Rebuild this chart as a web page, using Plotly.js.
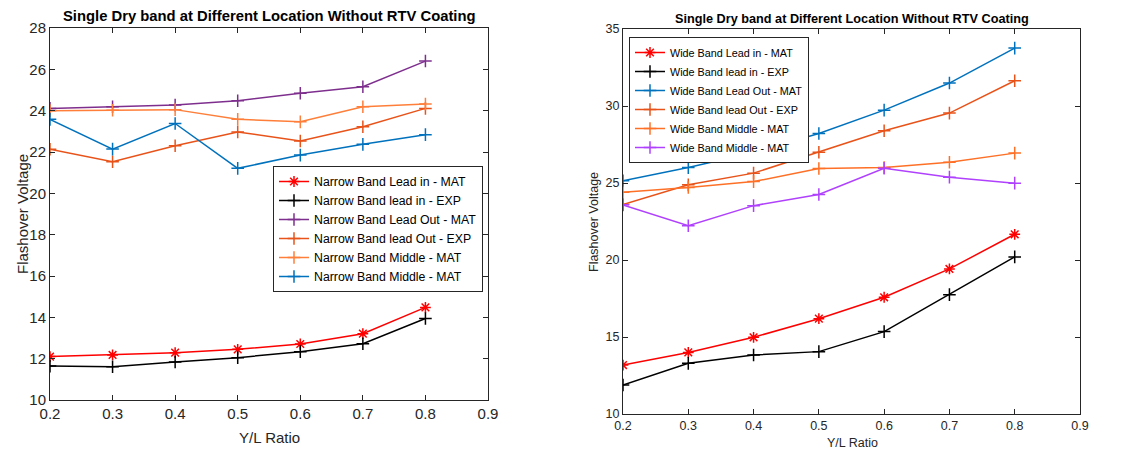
<!DOCTYPE html>
<html>
<head>
<meta charset="utf-8">
<script src="https://cdn.plot.ly/plotly-3.0.1.min.js"></script>
<style>html,body{margin:0;padding:0;background:#fff;}#chart{width:1135px;height:453px;}</style>
</head>
<body>
<div id="chart"></div>
<script>
const ratio = [0.2, 0.3, 0.4, 0.5, 0.6, 0.7, 0.8];

// Left chart: Narrow band
const narrowLeadInMAT  = [12.10, 12.18, 12.29, 12.45, 12.71, 13.21, 14.48];
const narrowLeadInEXP  = [11.64, 11.61, 11.84, 12.05, 12.34, 12.72, 13.94];
const narrowLeadOutMAT = [24.11, 24.19, 24.27, 24.48, 24.84, 25.16, 26.40];
const narrowLeadOutEXP = [22.13, 21.53, 22.30, 22.97, 22.53, 23.22, 24.11];
const narrowMiddleMAT1 = [24.00, 24.02, 24.05, 23.58, 23.46, 24.19, 24.32];
const narrowMiddleMAT2 = [23.58, 22.14, 23.38, 21.21, 21.85, 22.37, 22.84];

// Right chart: Wide band
const wideLeadInMAT  = [13.18, 14.00, 14.98, 16.19, 17.58, 19.42, 21.67];
const wideLeadInEXP  = [11.88, 13.29, 13.83, 14.05, 15.35, 17.75, 20.20];
const wideLeadOutMAT = [25.14, 26.00, 26.98, 28.21, 29.73, 31.49, 33.76];
const wideLeadOutEXP = [23.60, 24.88, 25.64, 27.00, 28.39, 29.54, 31.64];
const wideMiddleMAT1 = [24.40, 24.71, 25.09, 25.94, 26.00, 26.35, 26.94];
const wideMiddleMAT2 = [23.58, 22.22, 23.53, 24.25, 25.96, 25.38, 24.99];

const leftNames = ["Narrow Band Lead in - MAT", "Narrow Band lead in - EXP", "Narrow Band Lead Out - MAT",
                   "Narrow Band lead Out - EXP", "Narrow Band Middle - MAT", "Narrow Band Middle - MAT"];
const rightNames = ["Wide Band Lead in - MAT", "Wide Band lead in - EXP", "Wide Band Lead Out - MAT",
                    "Wide Band lead Out - EXP", "Wide Band Middle - MAT", "Wide Band Middle - MAT"];

const leftTitle = "Single Dry band at Different Location Without RTV Coating";
const rightTitle = "Single Dry band at Different Location Without RTV Coating";
const yTitle = "Flashover Voltage";
const xTitle = "Y/L Ratio";

const FONT = "Liberation Sans, Arial, sans-serif";
const AX = "#262626";

function tr(y, name, color, symbol, xa, ya, leg) {
  return {
    x: ratio, y: y, name: name, type: "scatter", mode: "lines+markers",
    xaxis: xa, yaxis: ya, legend: leg,
    line: {color: color, width: 1.5},
    marker: {symbol: symbol, size: 9, color: color, line: {color: color, width: 1.5}}
  };
}

const leftColors = ["#FF0000", "#000000", "#7E2F8E", "#E8531A", "#FF7F3A", "#0072BD"];
const rightColors = ["#FF0000", "#000000", "#0072BD", "#E8531A", "#FF7027", "#B040FF"];
const leftData = [narrowLeadInMAT, narrowLeadInEXP, narrowLeadOutMAT, narrowLeadOutEXP, narrowMiddleMAT1, narrowMiddleMAT2];
const rightData = [wideLeadInMAT, wideLeadInEXP, wideLeadOutMAT, wideLeadOutEXP, wideMiddleMAT1, wideMiddleMAT2];

const traces = [];
leftData.forEach((d, i) => traces.push(tr(d, leftNames[i], leftColors[i], i === 0 ? "asterisk-open" : "cross-thin-open", "x", "y", "legend")));
rightData.forEach((d, i) => traces.push(tr(d, rightNames[i], rightColors[i], i === 0 ? "asterisk-open" : "cross-thin-open", "x2", "y2", "legend2")));

function axis(domain, range, dtick, anchor, size) {
  return {
    domain: domain, range: range, dtick: dtick, anchor: anchor,
    showgrid: false, zeroline: false, showline: true, mirror: "ticks",
    linecolor: AX, linewidth: 1, ticks: "inside", ticklen: 5, tickcolor: AX,
    tickfont: {family: FONT, size: size, color: AX}, fixedrange: true
  };
}

const layout = {
  width: 1135, height: 453,
  margin: {l: 0, r: 0, t: 0, b: 0},
  paper_bgcolor: "#fff", plot_bgcolor: "#fff",
  showlegend: true,
  xaxis: Object.assign(axis([50/1135, 488/1135], [0.2, 0.9], 0.1, "y", 15), {tickformat: ".1f"}),
  yaxis: axis([53/453, 425/453], [10, 28], 2, "x", 15),
  xaxis2: Object.assign(axis([623/1135, 1080/1135], [0.2, 0.9], 0.1, "y2", 12.5), {tickformat: ".1f"}),
  yaxis2: axis([39/453, 424/453], [10, 35], 5, "x2", 12.5),
  legend: {
    x: 273/1135, y: 1 - 166/453, xanchor: "left", yanchor: "top",
    bgcolor: "#fff", bordercolor: AX, borderwidth: 1,
    font: {family: FONT, size: 12.3, color: "#000"}, tracegroupgap: 0, itemwidth: 30
  },
  legend2: {
    x: 629/1135, y: 1 - 37/453, xanchor: "left", yanchor: "top",
    bgcolor: "#fff", bordercolor: AX, borderwidth: 1,
    font: {family: FONT, size: 10.8, color: "#000"}, tracegroupgap: 0, itemwidth: 30
  },
  annotations: [
    {text: "<b>" + leftTitle + "</b>", x: 269/1135, y: 1 - 16/453, xref: "paper", yref: "paper",
     showarrow: false, xanchor: "center", yanchor: "middle", font: {family: FONT, size: 14.8, color: "#000"}},
    {text: "<b>" + rightTitle + "</b>", x: 852/1135, y: 1 - 19/453, xref: "paper", yref: "paper",
     showarrow: false, xanchor: "center", yanchor: "middle", font: {family: FONT, size: 12.7, color: "#000"}},
    {text: yTitle, x: 22/1135, y: 1 - 214/453, xref: "paper", yref: "paper", textangle: -90,
     showarrow: false, xanchor: "center", yanchor: "middle", font: {family: FONT, size: 15, color: AX}},
    {text: yTitle, x: 594/1135, y: 1 - 222/453, xref: "paper", yref: "paper", textangle: -90,
     showarrow: false, xanchor: "center", yanchor: "middle", font: {family: FONT, size: 12.5, color: AX}},
    {text: xTitle, x: 269/1135, y: 1 - 437/453, xref: "paper", yref: "paper",
     showarrow: false, xanchor: "center", yanchor: "middle", font: {family: FONT, size: 15, color: AX}},
    {text: xTitle, x: 852/1135, y: 1 - 443/453, xref: "paper", yref: "paper",
     showarrow: false, xanchor: "center", yanchor: "middle", font: {family: FONT, size: 12.5, color: AX}}
  ]
};

Plotly.newPlot("chart", traces, layout, {displayModeBar: false, staticPlot: true});
</script>
</body>
</html>
